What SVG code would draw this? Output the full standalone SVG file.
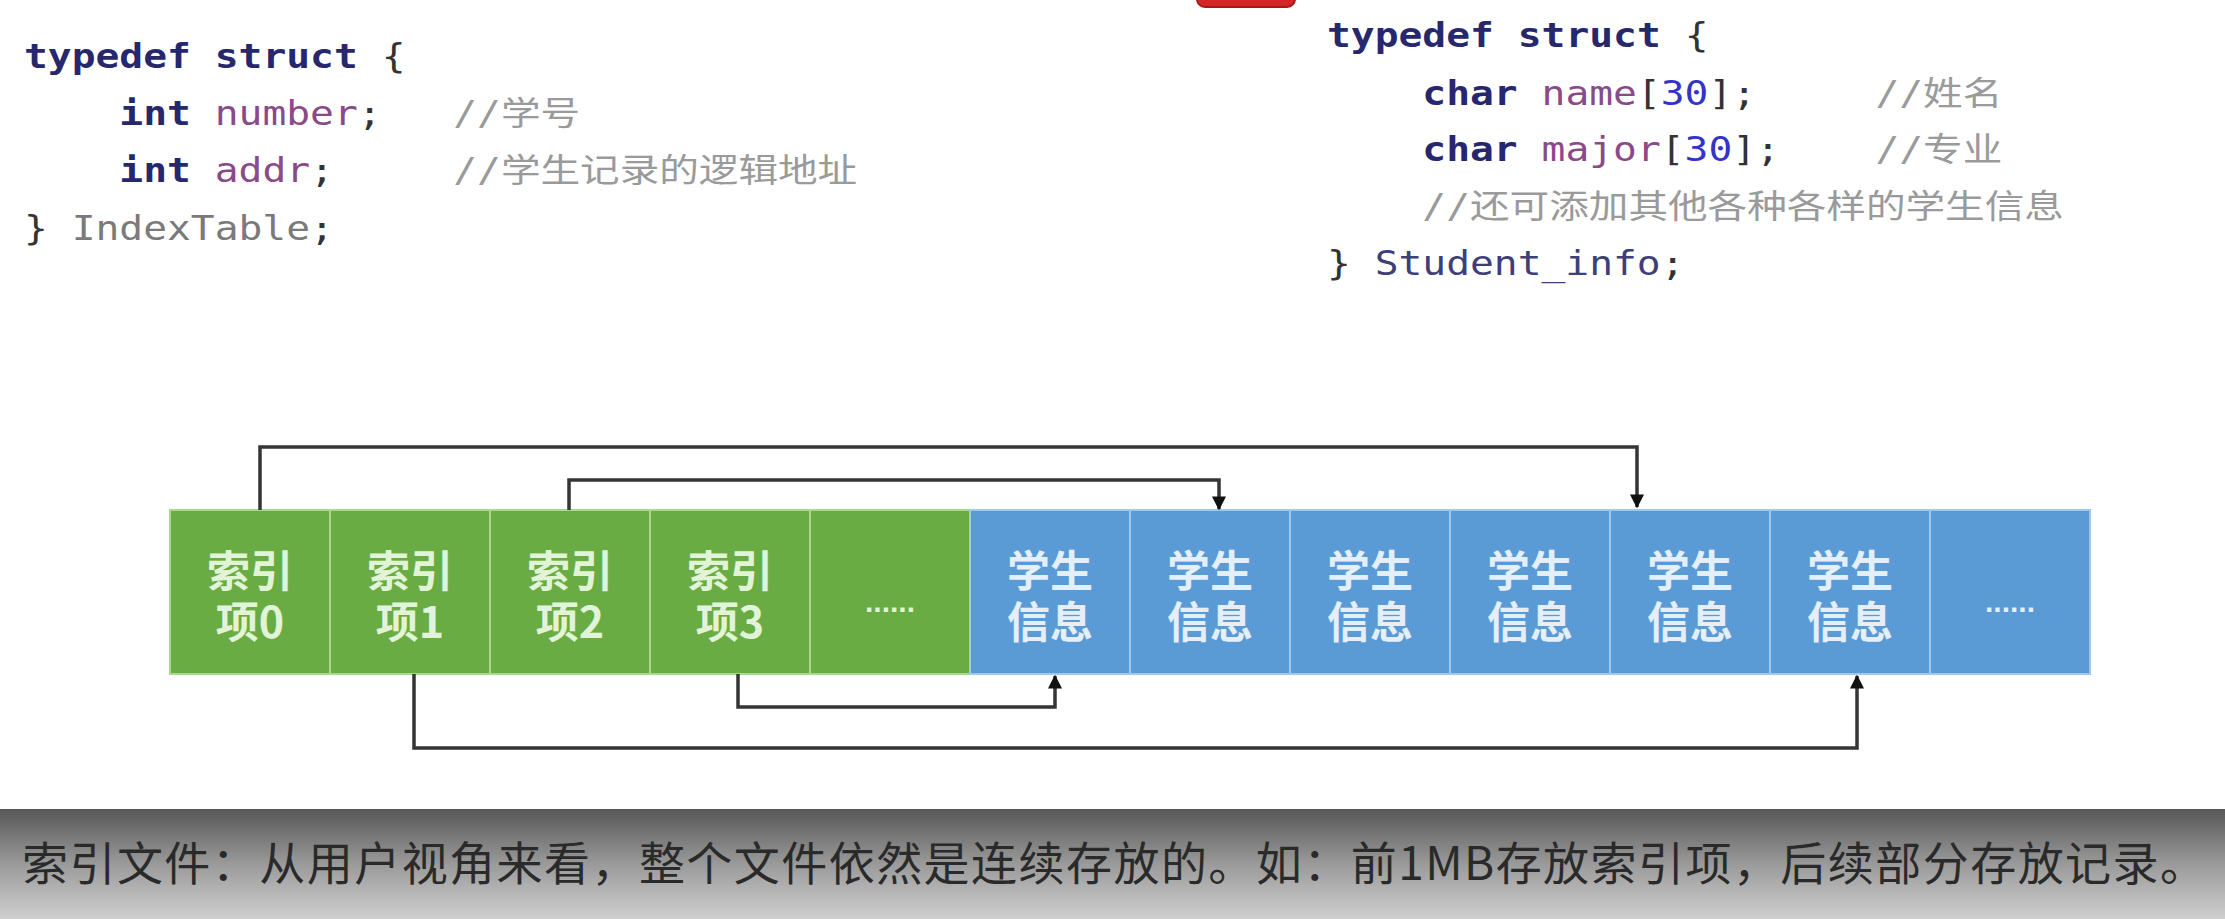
<svg xmlns="http://www.w3.org/2000/svg" width="2225" height="919" viewBox="0 0 2225 919">
<defs>
<style>
.code{font-family:"DejaVu Sans Mono","Liberation Mono",monospace;font-size:33px;fill:#333;white-space:pre}
.kw{font-weight:bold;fill:#27276e}
.id{fill:#8a4a8a}
.num{fill:#3434c8}
.ty{fill:#7a7a7a}
.ty2{fill:#3e3e78}
.cm{fill:#9a9a9a}
.cj{font-family:"Noto Sans CJK SC",sans-serif;font-size:33px}
.g rect{fill:#6aac44;stroke:#a8d88c;stroke-width:2}
.b rect{fill:#5b9bd5;stroke:#a0c8ee;stroke-width:2}
.cell{font-family:"Noto Sans CJK SC",sans-serif;font-size:43px;font-weight:bold;text-anchor:middle}
.g .cell{fill:#e2f4d8}
.b .cell{fill:#e4effa}
.dots{font-family:"Liberation Sans",sans-serif;font-size:30px;font-weight:bold;text-anchor:middle}
.conn{fill:none;stroke:#353535;stroke-width:3.5;stroke-linejoin:miter}
</style>
<marker id="ah" viewBox="0 0 10 10" refX="9" refY="5" markerWidth="4" markerHeight="4" markerUnits="strokeWidth" orient="auto">
<path d="M0,0 L10,5 L0,10 z" fill="#111"/>
</marker>
<linearGradient id="band" x1="0" y1="0" x2="0" y2="1">
<stop offset="0" stop-color="#575757"/>
<stop offset="0.5" stop-color="#9a9a9a"/>
<stop offset="1" stop-color="#cfcfcf"/>
</linearGradient>
</defs>
<rect x="0" y="0" width="2225" height="919" fill="#ffffff"/>
<rect x="1197" y="-20" width="98" height="27" rx="8" fill="#d42626" stroke="#a81818" stroke-width="2"/>

<g id="code-indextable" class="code">
<text transform="translate(24,68) scale(1.2,1)"><tspan class="kw" x="0">typedef</tspan><tspan class="kw" x="158.96">struct</tspan><tspan x="298.05">{</tspan></text>
<text transform="translate(24,125) scale(1.2,1)"><tspan class="kw" x="79.48">int</tspan><tspan class="id" x="158.96">number</tspan><tspan>;</tspan><tspan x="357.7" class="cm">//</tspan><tspan class="cm cj">学号</tspan></text>
<text transform="translate(24,182) scale(1.2,1)"><tspan class="kw" x="79.48">int</tspan><tspan class="id" x="158.96">addr</tspan><tspan>;</tspan><tspan x="357.7" class="cm">//</tspan><tspan class="cm cj">学生记录的逻辑地址</tspan></text>
<text transform="translate(24,240) scale(1.2,1)"><tspan x="0">}</tspan><tspan class="ty" x="39.74">IndexTable</tspan><tspan>;</tspan></text>
</g>

<g id="code-studentinfo" class="code">
<text transform="translate(1327,47) scale(1.2,1)"><tspan class="kw" x="0">typedef</tspan><tspan class="kw" x="158.96">struct</tspan><tspan x="298.05">{</tspan></text>
<text transform="translate(1327,105) scale(1.2,1)"><tspan class="kw" x="79.48">char</tspan><tspan class="id" x="178.83">name</tspan><tspan>[</tspan><tspan class="num">30</tspan><tspan>];</tspan><tspan x="457" class="cm">//</tspan><tspan class="cm cj">姓名</tspan></text>
<text transform="translate(1327,161) scale(1.2,1)"><tspan class="kw" x="79.48">char</tspan><tspan class="id" x="178.83">major</tspan><tspan>[</tspan><tspan class="num">30</tspan><tspan>];</tspan><tspan x="457" class="cm">//</tspan><tspan class="cm cj">专业</tspan></text>
<text transform="translate(1327,218) scale(1.2,1)"><tspan x="79.48" class="cm">//</tspan><tspan class="cm cj">还可添加其他各种各样的学生信息</tspan></text>
<text transform="translate(1327,275) scale(1.2,1)"><tspan x="0">}</tspan><tspan class="ty2" x="39.74">Student_info</tspan><tspan>;</tspan></text>
</g>

<g id="index0" class="g"><rect x="170" y="510" width="160" height="164"/><text class="cell" x="250" y="587">索引<tspan x="250" dy="51">项0</tspan></text></g>
<g id="index1" class="g"><rect x="330" y="510" width="160" height="164"/><text class="cell" x="410" y="587">索引<tspan x="410" dy="51">项1</tspan></text></g>
<g id="index2" class="g"><rect x="490" y="510" width="160" height="164"/><text class="cell" x="570" y="587">索引<tspan x="570" dy="51">项2</tspan></text></g>
<g id="index3" class="g"><rect x="650" y="510" width="160" height="164"/><text class="cell" x="730" y="587">索引<tspan x="730" dy="51">项3</tspan></text></g>
<g id="index-more" class="g"><rect x="810" y="510" width="160" height="164"/><text class="dots cell" x="890" y="612">......</text></g>
<g id="student0" class="b"><rect x="970" y="510" width="160" height="164"/><text class="cell" x="1050" y="587">学生<tspan x="1050" dy="51">信息</tspan></text></g>
<g id="student1" class="b"><rect x="1130" y="510" width="160" height="164"/><text class="cell" x="1210" y="587">学生<tspan x="1210" dy="51">信息</tspan></text></g>
<g id="student2" class="b"><rect x="1290" y="510" width="160" height="164"/><text class="cell" x="1370" y="587">学生<tspan x="1370" dy="51">信息</tspan></text></g>
<g id="student3" class="b"><rect x="1450" y="510" width="160" height="164"/><text class="cell" x="1530" y="587">学生<tspan x="1530" dy="51">信息</tspan></text></g>
<g id="student4" class="b"><rect x="1610" y="510" width="160" height="164"/><text class="cell" x="1690" y="587">学生<tspan x="1690" dy="51">信息</tspan></text></g>
<g id="student5" class="b"><rect x="1770" y="510" width="160" height="164"/><text class="cell" x="1850" y="587">学生<tspan x="1850" dy="51">信息</tspan></text></g>
<g id="student-more" class="b"><rect x="1930" y="510" width="160" height="164"/><text class="dots cell" x="2010" y="612">......</text></g>

<g id="connectors">
<path class="conn" d="M260,510 V447 H1637 V507" marker-end="url(#ah)"/>
<path class="conn" d="M569,510 V480 H1219 V509" marker-end="url(#ah)"/>
<path class="conn" d="M738,674 V707 H1055 V676" marker-end="url(#ah)"/>
<path class="conn" d="M414,674 V748 H1857 V676" marker-end="url(#ah)"/>
</g>

<g id="caption">
<rect x="0" y="809" width="2225" height="110" fill="url(#band)"/>
<text x="22" y="880" textLength="2184" lengthAdjust="spacing" font-family="Noto Sans CJK SC, sans-serif" font-size="46" fill="#2a2a2a">索引文件：从用户视角来看，整个文件依然是连续存放的。如：前1MB存放索引项，后续部分存放记录。</text>
</g>
</svg>
